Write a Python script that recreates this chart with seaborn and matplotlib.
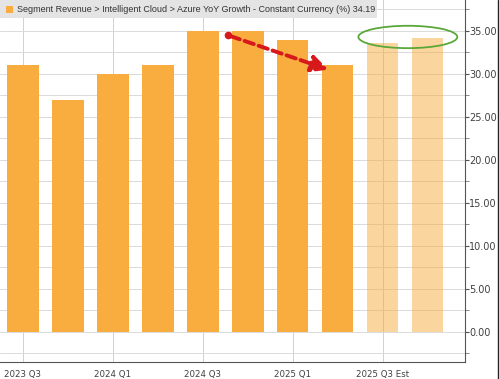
import numpy as np
import pandas as pd
import matplotlib
matplotlib.use("Agg")
import matplotlib.pyplot as plt
from matplotlib.patches import Ellipse, Rectangle
import seaborn as sns

# Azure YoY growth, constant currency (%)
quarters = ["2023 Q3", "2023 Q4", "2024 Q1", "2024 Q2", "2024 Q3", "2024 Q4",
            "2025 Q1", "2025 Q2", "2025 Q3 Est", "2025 Q4 Est"]
growth = [31, 27, 30, 31, 35, 35, 34, 31, 33.6, 34.19]
is_estimate = [False] * 8 + [True] * 2
tick_labels = ["2023 Q3", "2024 Q1", "2024 Q3", "2025 Q1", "2025 Q3 Est"]

df = pd.DataFrame({"quarter": quarters, "growth": growth, "est": is_estimate})

sns.set_style("white")
plt.rcParams["font.family"] = ["DejaVu Sans"]
orange = "#F9AD3E"
txt = "#404040"

fig = plt.figure(figsize=(5, 3.79), dpi=100)
ax = fig.add_axes([0.0, 0.045, 0.929, 0.955])

sns.barplot(data=df, x="quarter", y="growth", hue="quarter",
            palette=[orange] * len(df), legend=False, width=0.7,
            saturation=1, ax=ax, zorder=2)
for patch, est in zip(ax.patches, df["est"]):
    patch.set_linewidth(0)
    if est:
        patch.set_alpha(0.5)

ax.set_xlim(-0.51, 9.82)
ax.set_ylim(-3.5, 38.6)
ax.set_xlabel("")
ax.set_ylabel("")

# y axis on the right
ax.yaxis.tick_right()
ax.set_yticks(np.arange(0, 36, 5))
ax.set_yticklabels([f"{v:.2f}" for v in np.arange(0, 36, 5)])
ax.set_yticks(np.arange(-2.5, 38, 2.5), minor=True)
ax.tick_params(axis="y", which="major", length=3, width=0.8, color="#555555",
               labelsize=7, labelcolor=txt, pad=0.5, right=True, left=False)
ax.tick_params(axis="y", which="minor", length=3, width=0.6, color="#777777",
               right=True, left=False)

# x axis: labels every other quarter
ax.set_xticks(np.arange(0, 10, 2))
ax.set_xticklabels(tick_labels)
ax.set_xticks(np.arange(1, 10, 2), minor=True)
ax.tick_params(axis="x", which="major", length=4, width=0.6, color="#777777",
               labelsize=6.2, labelcolor=txt, pad=2)
ax.tick_params(axis="x", which="minor", length=3, width=0.6, color="#777777")

ax.grid(True, which="minor", axis="y", color="#DADADA", linewidth=0.7, zorder=0)
ax.grid(True, which="major", axis="y", color="#DADADA", linewidth=0.7, zorder=0)
ax.grid(True, which="major", axis="x", color="#D0D0D0", linewidth=0.7, zorder=0)
ax.set_axisbelow(True)

for side in ["top", "left"]:
    ax.spines[side].set_visible(False)
for side in ["right", "bottom"]:
    ax.spines[side].set_color("#555555")
    ax.spines[side].set_linewidth(0.8)

# red dashed arrow showing the slowdown
ax.plot(4.56, 34.5, "o", color="#D7191C", markersize=4.5, zorder=5)
ax.annotate("", xy=(6.85, 30.4), xytext=(4.56, 34.5),
            arrowprops=dict(arrowstyle="-|>,head_length=1.0,head_width=0.5",
                            color="#D7191C", lw=2.8, linestyle=(0, (2.5, 1.3))),
            zorder=5)

# green ellipse around the estimates
ax.add_patch(Ellipse((8.56, 34.3), 2.2, 2.6, fill=False,
                     edgecolor="#5BA839", linewidth=1.3, zorder=5))

# title box
fig.patches.append(Rectangle((0, 0.952), 0.754, 0.048, transform=fig.transFigure,
                             facecolor="#E4E4E4", edgecolor="none", zorder=10))
fig.patches.append(Rectangle((0.012, 0.966), 0.014, 0.019, transform=fig.transFigure,
                             facecolor=orange, edgecolor="none", zorder=11))
fig.text(0.034, 0.976,
         "Segment Revenue > Intelligent Cloud > Azure YoY Growth - Constant Currency (%) 34.19",
         fontsize=6.5, family=["Liberation Sans", "DejaVu Sans"],
         color="#333333", va="center", ha="left", zorder=12)

# right border
fig.add_artist(plt.Line2D([0.996, 0.996], [0, 1], transform=fig.transFigure,
                          color="#222222", linewidth=1))

fig.savefig("out.png", dpi=100)
